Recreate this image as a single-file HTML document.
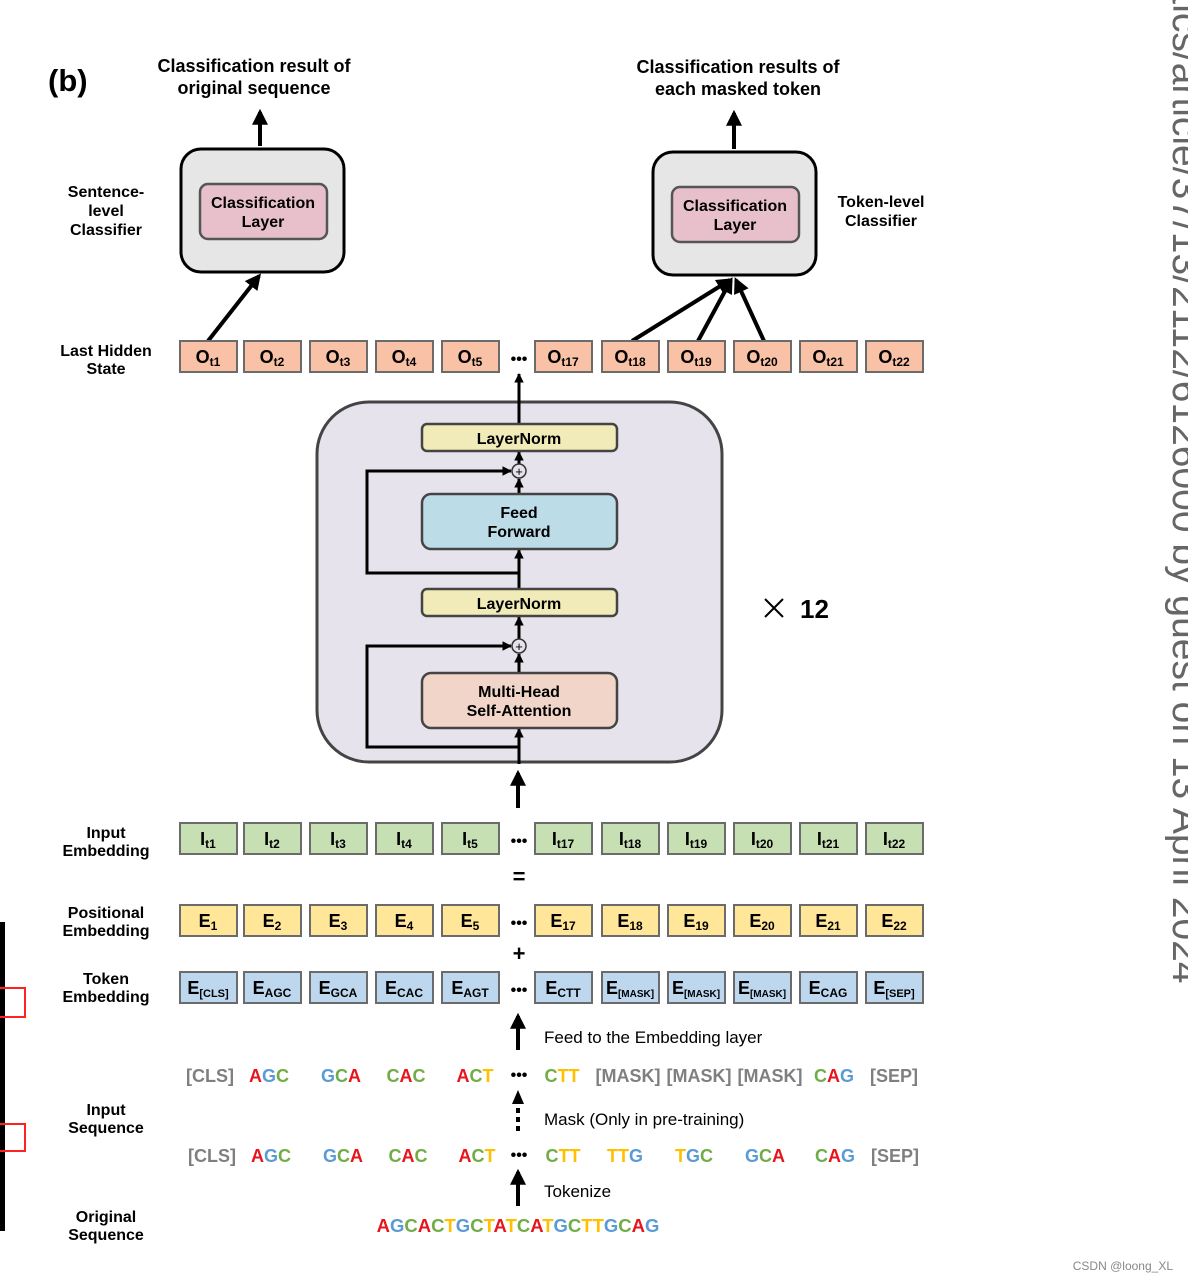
<!DOCTYPE html>
<html><head><meta charset="utf-8">
<style>
html,body{margin:0;padding:0;background:#fff;}
svg{display:block;}
text{font-family:"Liberation Sans",sans-serif;}
.b{font-weight:bold;}
.n{font-family:"Liberation Sans Narrow","Liberation Sans",sans-serif;font-weight:bold;}
.A{fill:#e8141b}.G{fill:#5b9bd5}.C{fill:#70ad47}.T{fill:#ffc000}.g{fill:#7f7f7f}
</style></head>
<body>
<svg width="1188" height="1282" viewBox="0 0 1188 1282" xmlns="http://www.w3.org/2000/svg">
<defs>
<marker id="ah" viewBox="0 0 10 10" refX="8" refY="5" markerWidth="4" markerHeight="4" orient="auto-start-reverse"><path d="M0,0L10,5L0,10z" fill="#000"/></marker>
<marker id="as" viewBox="0 0 10 10" refX="9" refY="5" markerWidth="3.2" markerHeight="3.2" orient="auto"><path d="M0,0L10,5L0,10z" fill="#000"/></marker>
</defs>

<text transform="translate(1173,-50) rotate(90)" font-size="39" fill="#666">natics/article/37/13/2112/6126000 by guest on 13 April 2024</text>
<text x="1173" y="1270" font-size="12" fill="#888" text-anchor="end">CSDN @loong_XL</text>

<rect x="0" y="922" width="5" height="309" fill="#000"/>
<path d="M0,988H25V1017H0M0,1124H25V1151H0" fill="none" stroke="#f22" stroke-width="2"/>

<text x="48" y="91" font-size="31" class="b">(b)</text>
<text x="254" y="72" font-size="18" class="b" text-anchor="middle">Classification result of</text>
<text x="254" y="94" font-size="18" class="b" text-anchor="middle">original sequence</text>
<text x="738" y="73" font-size="18" class="b" text-anchor="middle">Classification results of</text>
<text x="738" y="95" font-size="18" class="b" text-anchor="middle">each masked token</text>

<g font-size="16" class="b" text-anchor="middle">
<text x="106" y="197">Sentence-</text><text x="106" y="216">level</text><text x="106" y="235">Classifier</text>
<text x="881" y="207">Token-level</text><text x="881" y="226">Classifier</text>
<text x="106" y="356">Last Hidden</text><text x="106" y="374">State</text>
<text x="106" y="838">Input</text><text x="106" y="856">Embedding</text>
<text x="106" y="918">Positional</text><text x="106" y="936">Embedding</text>
<text x="106" y="984">Token</text><text x="106" y="1002">Embedding</text>
<text x="106" y="1115">Input</text><text x="106" y="1133">Sequence</text>
<text x="106" y="1222">Original</text><text x="106" y="1240">Sequence</text>
</g>

<rect x="181" y="149" width="163" height="123" rx="20" fill="#e6e6e6" stroke="#000" stroke-width="3"/>
<rect x="200" y="184" width="127" height="55" rx="8" fill="#e8c0cc" stroke="#555" stroke-width="2.5"/>
<text x="263" y="208" font-size="16" class="b" text-anchor="middle">Classification</text>
<text x="263" y="227" font-size="16" class="b" text-anchor="middle">Layer</text>
<rect x="653" y="152" width="163" height="123" rx="20" fill="#e6e6e6" stroke="#000" stroke-width="3"/>
<rect x="672" y="187" width="127" height="55" rx="8" fill="#e8c0cc" stroke="#555" stroke-width="2.5"/>
<text x="735" y="211" font-size="16" class="b" text-anchor="middle">Classification</text>
<text x="735" y="230" font-size="16" class="b" text-anchor="middle">Layer</text>

<g stroke="#000" stroke-width="4" fill="none" marker-end="url(#ah)">
<line x1="260" y1="146" x2="260" y2="112"/>
<line x1="734" y1="149" x2="734" y2="113"/>
<line x1="208" y1="341" x2="259" y2="276"/>
<line x1="632" y1="341" x2="730" y2="280"/>
<line x1="698" y1="341" x2="731" y2="280"/>
<line x1="764" y1="341" x2="736" y2="280"/>
<line x1="518" y1="808" x2="518" y2="773"/>
<line x1="518" y1="1050" x2="518" y2="1016"/>
<line x1="518" y1="1206" x2="518" y2="1172"/>
</g>
<line x1="518" y1="1131" x2="518" y2="1100" stroke="#000" stroke-width="4" stroke-dasharray="5,4"/>
<path d="M512,1104L518,1090L524,1104z" fill="#000"/>

<g stroke="#6b6b6b" stroke-width="2" fill="#f9c1a5">
<rect x="180" y="341" width="57" height="31"/><rect x="244" y="341" width="57" height="31"/><rect x="310" y="341" width="57" height="31"/><rect x="376" y="341" width="57" height="31"/><rect x="442" y="341" width="57" height="31"/><rect x="535" y="341" width="57" height="31"/><rect x="602" y="341" width="57" height="31"/><rect x="668" y="341" width="57" height="31"/><rect x="734" y="341" width="57" height="31"/><rect x="800" y="341" width="57" height="31"/><rect x="866" y="341" width="57" height="31"/>
</g>
<g class="n" font-size="18" text-anchor="middle">
<text x="208" y="363">O<tspan font-size="12" dy="3">t1</tspan></text><text x="272" y="363">O<tspan font-size="12" dy="3">t2</tspan></text><text x="338" y="363">O<tspan font-size="12" dy="3">t3</tspan></text><text x="404" y="363">O<tspan font-size="12" dy="3">t4</tspan></text><text x="470" y="363">O<tspan font-size="12" dy="3">t5</tspan></text><text x="563" y="363">O<tspan font-size="12" dy="3">t17</tspan></text><text x="630" y="363">O<tspan font-size="12" dy="3">t18</tspan></text><text x="696" y="363">O<tspan font-size="12" dy="3">t19</tspan></text><text x="762" y="363">O<tspan font-size="12" dy="3">t20</tspan></text><text x="828" y="363">O<tspan font-size="12" dy="3">t21</tspan></text><text x="894" y="363">O<tspan font-size="12" dy="3">t22</tspan></text>
</g>

<rect x="317" y="402" width="405" height="360" rx="52" fill="#e6e3ec" stroke="#444" stroke-width="3"/>
<line x1="519" y1="424" x2="519" y2="374" stroke="#000" stroke-width="3" marker-end="url(#as)"/>
<g stroke="#000" stroke-width="3" fill="none">
<line x1="519" y1="764" x2="519" y2="729" marker-end="url(#as)"/>
<line x1="519" y1="673" x2="519" y2="654" marker-end="url(#as)"/>
<line x1="519" y1="639" x2="519" y2="617" marker-end="url(#as)"/>
<line x1="519" y1="589" x2="519" y2="550" marker-end="url(#as)"/>
<line x1="519" y1="494" x2="519" y2="479" marker-end="url(#as)"/>
<line x1="519" y1="464" x2="519" y2="452" marker-end="url(#as)"/>
<polyline points="519,747 367,747 367,646 511,646" marker-end="url(#as)"/>
<polyline points="519,573 367,573 367,471 511,471" marker-end="url(#as)"/>
</g>
<circle cx="519" cy="471" r="7" fill="#e6e3ec" stroke="#333" stroke-width="1.5"/>
<text x="519" y="476" font-size="13" text-anchor="middle">+</text>
<circle cx="519" cy="646" r="7" fill="#e6e3ec" stroke="#333" stroke-width="1.5"/>
<text x="519" y="651" font-size="13" text-anchor="middle">+</text>

<rect x="422" y="424" width="195" height="27" rx="5" fill="#f0ebb8" stroke="#444" stroke-width="2.5"/>
<text x="519" y="444" font-size="16" class="b" text-anchor="middle">LayerNorm</text>
<rect x="422" y="494" width="195" height="55" rx="9" fill="#bcdce8" stroke="#444" stroke-width="2.5"/>
<text x="519" y="518" font-size="16" class="b" text-anchor="middle">Feed</text>
<text x="519" y="537" font-size="16" class="b" text-anchor="middle">Forward</text>
<rect x="422" y="589" width="195" height="27" rx="5" fill="#f0ebb8" stroke="#444" stroke-width="2.5"/>
<text x="519" y="609" font-size="16" class="b" text-anchor="middle">LayerNorm</text>
<rect x="422" y="673" width="195" height="55" rx="9" fill="#f0d5c8" stroke="#444" stroke-width="2.5"/>
<text x="519" y="697" font-size="16" class="b" text-anchor="middle">Multi-Head</text>
<text x="519" y="716" font-size="16" class="b" text-anchor="middle">Self-Attention</text>

<path d="M765,599L783,617M783,599L765,617" stroke="#000" stroke-width="2"/>
<text x="800" y="618" font-size="26" class="b">12</text>

<g stroke="#6b6b6b" stroke-width="2" fill="#c6e0b4">
<rect x="180" y="823" width="57" height="31"/><rect x="244" y="823" width="57" height="31"/><rect x="310" y="823" width="57" height="31"/><rect x="376" y="823" width="57" height="31"/><rect x="442" y="823" width="57" height="31"/><rect x="535" y="823" width="57" height="31"/><rect x="602" y="823" width="57" height="31"/><rect x="668" y="823" width="57" height="31"/><rect x="734" y="823" width="57" height="31"/><rect x="800" y="823" width="57" height="31"/><rect x="866" y="823" width="57" height="31"/>
</g>
<g class="n" font-size="18" text-anchor="middle">
<text x="208" y="845">I<tspan font-size="12" dy="3">t1</tspan></text><text x="272" y="845">I<tspan font-size="12" dy="3">t2</tspan></text><text x="338" y="845">I<tspan font-size="12" dy="3">t3</tspan></text><text x="404" y="845">I<tspan font-size="12" dy="3">t4</tspan></text><text x="470" y="845">I<tspan font-size="12" dy="3">t5</tspan></text><text x="563" y="845">I<tspan font-size="12" dy="3">t17</tspan></text><text x="630" y="845">I<tspan font-size="12" dy="3">t18</tspan></text><text x="696" y="845">I<tspan font-size="12" dy="3">t19</tspan></text><text x="762" y="845">I<tspan font-size="12" dy="3">t20</tspan></text><text x="828" y="845">I<tspan font-size="12" dy="3">t21</tspan></text><text x="894" y="845">I<tspan font-size="12" dy="3">t22</tspan></text>
</g>

<g stroke="#6b6b6b" stroke-width="2" fill="#ffe699">
<rect x="180" y="905" width="57" height="31"/><rect x="244" y="905" width="57" height="31"/><rect x="310" y="905" width="57" height="31"/><rect x="376" y="905" width="57" height="31"/><rect x="442" y="905" width="57" height="31"/><rect x="535" y="905" width="57" height="31"/><rect x="602" y="905" width="57" height="31"/><rect x="668" y="905" width="57" height="31"/><rect x="734" y="905" width="57" height="31"/><rect x="800" y="905" width="57" height="31"/><rect x="866" y="905" width="57" height="31"/>
</g>
<g class="n" font-size="18" text-anchor="middle">
<text x="208" y="927">E<tspan font-size="12" dy="3">1</tspan></text><text x="272" y="927">E<tspan font-size="12" dy="3">2</tspan></text><text x="338" y="927">E<tspan font-size="12" dy="3">3</tspan></text><text x="404" y="927">E<tspan font-size="12" dy="3">4</tspan></text><text x="470" y="927">E<tspan font-size="12" dy="3">5</tspan></text><text x="563" y="927">E<tspan font-size="12" dy="3">17</tspan></text><text x="630" y="927">E<tspan font-size="12" dy="3">18</tspan></text><text x="696" y="927">E<tspan font-size="12" dy="3">19</tspan></text><text x="762" y="927">E<tspan font-size="12" dy="3">20</tspan></text><text x="828" y="927">E<tspan font-size="12" dy="3">21</tspan></text><text x="894" y="927">E<tspan font-size="12" dy="3">22</tspan></text>
</g>

<g stroke="#6b6b6b" stroke-width="2" fill="#bdd7ee">
<rect x="180" y="972" width="57" height="31"/><rect x="244" y="972" width="57" height="31"/><rect x="310" y="972" width="57" height="31"/><rect x="376" y="972" width="57" height="31"/><rect x="442" y="972" width="57" height="31"/><rect x="535" y="972" width="57" height="31"/><rect x="602" y="972" width="57" height="31"/><rect x="668" y="972" width="57" height="31"/><rect x="734" y="972" width="57" height="31"/><rect x="800" y="972" width="57" height="31"/><rect x="866" y="972" width="57" height="31"/>
</g>
<g class="n" font-size="18" text-anchor="middle">
<text x="208" y="994">E<tspan font-size="11" dy="3">[CLS]</tspan></text><text x="272" y="994">E<tspan font-size="12" dy="3">AGC</tspan></text><text x="338" y="994">E<tspan font-size="12" dy="3">GCA</tspan></text><text x="404" y="994">E<tspan font-size="12" dy="3">CAC</tspan></text><text x="470" y="994">E<tspan font-size="12" dy="3">AGT</tspan></text><text x="563" y="994">E<tspan font-size="12" dy="3">CTT</tspan></text><text x="630" y="994">E<tspan font-size="10" dy="3">[MASK]</tspan></text><text x="696" y="994">E<tspan font-size="10" dy="3">[MASK]</tspan></text><text x="762" y="994">E<tspan font-size="10" dy="3">[MASK]</tspan></text><text x="828" y="994">E<tspan font-size="12" dy="3">CAG</tspan></text><text x="894" y="994">E<tspan font-size="11" dy="3">[SEP]</tspan></text>
</g>

<g class="b" font-size="16" text-anchor="middle">
<text x="519" y="364">•••</text><text x="519" y="846">•••</text><text x="519" y="928">•••</text><text x="519" y="995">•••</text><text x="519" y="1080">•••</text><text x="519" y="1160">•••</text>
<text x="519" y="884" font-size="22">=</text><text x="519" y="961" font-size="22">+</text>
</g>

<g font-size="17">
<text x="544" y="1043">Feed to the Embedding layer</text>
<text x="544" y="1125">Mask (Only in pre-training)</text>
<text x="544" y="1197">Tokenize</text>
</g>

<g font-size="18" class="b" text-anchor="middle">
<text x="210" y="1082" class="g">[CLS]</text>
<text x="269" y="1082"><tspan class="A">A</tspan><tspan class="G">G</tspan><tspan class="C">C</tspan></text>
<text x="341" y="1082"><tspan class="G">G</tspan><tspan class="C">C</tspan><tspan class="A">A</tspan></text>
<text x="406" y="1082"><tspan class="C">C</tspan><tspan class="A">A</tspan><tspan class="C">C</tspan></text>
<text x="475" y="1082"><tspan class="A">A</tspan><tspan class="C">C</tspan><tspan class="T">T</tspan></text>
<text x="562" y="1082"><tspan class="C">C</tspan><tspan class="T">TT</tspan></text>
<text x="628" y="1082" class="g">[MASK]</text>
<text x="699" y="1082" class="g">[MASK]</text>
<text x="770" y="1082" class="g">[MASK]</text>
<text x="834" y="1082"><tspan class="C">C</tspan><tspan class="A">A</tspan><tspan class="G">G</tspan></text>
<text x="894" y="1082" class="g">[SEP]</text>
</g>
<g font-size="18" class="b" text-anchor="middle">
<text x="212" y="1162" class="g">[CLS]</text>
<text x="271" y="1162"><tspan class="A">A</tspan><tspan class="G">G</tspan><tspan class="C">C</tspan></text>
<text x="343" y="1162"><tspan class="G">G</tspan><tspan class="C">C</tspan><tspan class="A">A</tspan></text>
<text x="408" y="1162"><tspan class="C">C</tspan><tspan class="A">A</tspan><tspan class="C">C</tspan></text>
<text x="477" y="1162"><tspan class="A">A</tspan><tspan class="C">C</tspan><tspan class="T">T</tspan></text>
<text x="563" y="1162"><tspan class="C">C</tspan><tspan class="T">TT</tspan></text>
<text x="625" y="1162"><tspan class="T">TT</tspan><tspan class="G">G</tspan></text>
<text x="694" y="1162"><tspan class="T">T</tspan><tspan class="G">G</tspan><tspan class="C">C</tspan></text>
<text x="765" y="1162"><tspan class="G">G</tspan><tspan class="C">C</tspan><tspan class="A">A</tspan></text>
<text x="835" y="1162"><tspan class="C">C</tspan><tspan class="A">A</tspan><tspan class="G">G</tspan></text>
<text x="895" y="1162" class="g">[SEP]</text>
</g>
<text x="518" y="1232" font-size="18.5" class="b" text-anchor="middle"><tspan class="A">A</tspan><tspan class="G">G</tspan><tspan class="C">C</tspan><tspan class="A">A</tspan><tspan class="C">C</tspan><tspan class="T">T</tspan><tspan class="G">G</tspan><tspan class="C">C</tspan><tspan class="T">T</tspan><tspan class="A">A</tspan><tspan class="T">T</tspan><tspan class="C">C</tspan><tspan class="A">A</tspan><tspan class="T">T</tspan><tspan class="G">G</tspan><tspan class="C">C</tspan><tspan class="T">TT</tspan><tspan class="G">G</tspan><tspan class="C">C</tspan><tspan class="A">A</tspan><tspan class="G">G</tspan></text>
</svg>
</body></html>
